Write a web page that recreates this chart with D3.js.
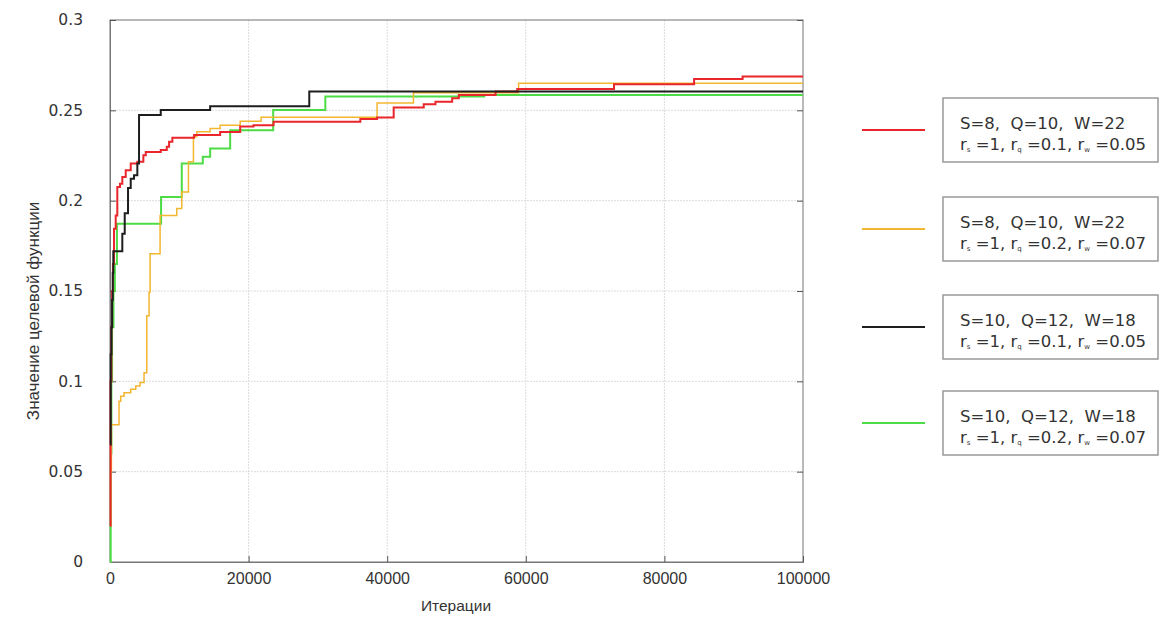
<!DOCTYPE html>
<html>
<head>
<meta charset="utf-8">
<script src="https://cdn.jsdelivr.net/npm/d3@7"></script>
<style>
  body { margin: 0; background: #fff; }
  svg text { font-family: "DejaVu Sans", Verdana, sans-serif; }
</style>
</head>
<body>
<svg id="chart" width="1162" height="619"></svg>
<script>
// data: [iteration, objective value], step curves
var seriesRed = [[0,0.02],[80,0.1],[200,0.13],[300,0.15],[420,0.165],[578,0.1844],[824,0.1918],[1055,0.2076],
  [1445,0.2094],[1777,0.2131],[2269,0.2168],[2991,0.2206],[3945,0.2215],[4812,0.2252],[5159,0.227],[7326,0.228],
  [8193,0.2298],[8526,0.2326],[9002,0.2348],[12138,0.2363],[15895,0.238],[18785,0.241],[20707,0.2418],
  [23597,0.2437],[36125,0.2452],[38538,0.246],[40937,0.2515],[45272,0.2533],[46962,0.2548],[49376,0.2567],
  [50329,0.2585],[55633,0.2604],[58768,0.2618],[72727,0.2644],[84287,0.2674],[91281,0.2687],[100000,0.2687]];

var seriesOrange = [[0,0.02],[100,0.05],[200,0.076],[1300,0.089],[1546,0.0918],[2023,0.0937],[2991,0.0956],
  [3714,0.0974],[4335,0.0993],[4913,0.1048],[5303,0.1363],[5636,0.1493],[5780,0.1706],[7225,0.1918],
  [9633,0.1956],[10355,0.2048],[11320,0.2215],[12040,0.2354],[12525,0.2381],[14450,0.24],[15895,0.2418],
  [18785,0.244],[21800,0.2462],[38538,0.254],[43783,0.2597],[58956,0.265],[100000,0.265]];

var seriesBlack = [[0,0.065],[100,0.115],[200,0.13],[300,0.145],[400,0.16],[477,0.172],[1777,0.1817],
  [2124,0.193],[2601,0.207],[2991,0.2122],[3468,0.214],[3945,0.2206],[4190,0.2474],[7326,0.2502],
  [14450,0.2522],[28755,0.2604],[100000,0.2604]];

var seriesGreen = [[0,0.0],[100,0.06],[200,0.1],[300,0.13],[500,0.15],[700,0.165],[1000,0.1872],
  [7370,0.202],[10355,0.2206],[13390,0.2243],[14450,0.2289],[17340,0.239],[23550,0.2502],[31070,0.2576],
  [54000,0.2585],[100000,0.2585]];

var legendLine1 = ["S=8,  Q=10,  W=22", "S=8,  Q=10,  W=22", "S=10,  Q=12,  W=18", "S=10,  Q=12,  W=18"];
var legendRq = ["0.1", "0.2", "0.1", "0.2"];
var legendRw = ["0.05", "0.07", "0.05", "0.07"];
var seriesColors = ["#e8262b", "#f2b631", "#1e1e1e", "#4ddc45"];

var xTicks = [0, 20000, 40000, 60000, 80000, 100000];
var yTicks = [0, 0.05, 0.1, 0.15, 0.2, 0.25, 0.3];

var allSeries = [seriesRed, seriesOrange, seriesBlack, seriesGreen];

const svg = d3.select("#chart");
const mLeft = 110, mRight = 803, mTop = 20, mBottom = 562;

const xScale = d3.scaleLinear().domain([0, 100000]).range([mLeft, mRight]);
const yScale = d3.scaleLinear().domain([0, 0.3]).range([mBottom, mTop]);

// grid
svg.append("g").selectAll("line").data(xTicks.slice(1, -1)).enter().append("line")
  .attr("x1", d => xScale(d)).attr("x2", d => xScale(d))
  .attr("y1", mTop).attr("y2", mBottom)
  .attr("stroke", "#dcdcdc").attr("stroke-width", 1).attr("stroke-dasharray", "2,1");
svg.append("g").selectAll("line").data(yTicks.slice(1, -1)).enter().append("line")
  .attr("x1", mLeft).attr("x2", mRight)
  .attr("y1", d => yScale(d)).attr("y2", d => yScale(d))
  .attr("stroke", "#dcdcdc").attr("stroke-width", 1).attr("stroke-dasharray", "2,1");

// frame
svg.append("rect").attr("x", mLeft).attr("y", mTop)
  .attr("width", mRight - mLeft).attr("height", mBottom - mTop)
  .attr("fill", "none").attr("stroke", "#8a8a8a").attr("stroke-width", 1.2);

// axes
const yAxis = svg.append("g").attr("transform", `translate(${mLeft},0)`)
  .call(d3.axisLeft(yScale).tickValues(yTicks).tickSize(-6).tickPadding(27).tickFormat(d3.format("")));
yAxis.select(".domain").attr("stroke", "#777");
yAxis.selectAll(".tick line").attr("stroke", "#555");
yAxis.selectAll("text").attr("font-size", 15.5).attr("fill", "#333")
  .style("font-family", "DejaVu Sans, sans-serif");

svg.append("g").attr("transform", `translate(${mRight},0)`)
  .call(d3.axisRight(yScale).tickValues(yTicks).tickSize(-6).tickFormat(""))
  .call(g => g.select(".domain").remove())
  .selectAll(".tick line").attr("stroke", "#555");

const xAxis = svg.append("g").attr("transform", `translate(0,${mBottom})`)
  .call(d3.axisBottom(xScale).tickValues(xTicks).tickSize(-6).tickPadding(11).tickFormat(d3.format("d")));
xAxis.select(".domain").attr("stroke", "#777");
xAxis.selectAll(".tick line").attr("stroke", "#555");
xAxis.selectAll("text").attr("font-size", 16).attr("fill", "#333")
  .style("font-family", "Liberation Sans, Arial, sans-serif");

// axis titles
svg.append("text").attr("x", 456).attr("y", 611).attr("text-anchor", "middle")
  .attr("font-size", 15.5).attr("fill", "#333")
  .style("font-family", "Liberation Sans, Arial, sans-serif").text("Итерации");
svg.append("text").attr("transform", "translate(39,311) rotate(-90)").attr("text-anchor", "middle")
  .attr("font-size", 17).attr("fill", "#333")
  .style("font-family", "Liberation Sans, Arial, sans-serif").text("Значение целевой функции");

// lines
const line = d3.line().x(d => xScale(d[0])).y(d => yScale(d[1])).curve(d3.curveStepAfter);
const plot = svg.append("g");
// draw order: green under, then orange, red, black
[3, 1, 0, 2].forEach(function(i) {
  plot.append("path").datum(allSeries[i])
    .attr("d", line).attr("fill", "none")
    .attr("stroke", seriesColors[i])
    .attr("stroke-width", i == 1 ? 1.5 : 2);
});

// legend
const boxTops = [98, 197, 295, 391];
const legend = svg.append("g");
legendLine1.forEach(function(label, i) {
  const by = boxTops[i];
  const g = legend.append("g");
  g.append("line").attr("x1", 862).attr("x2", 925)
    .attr("y1", by + 32).attr("y2", by + 32)
    .attr("stroke", seriesColors[i]).attr("stroke-width", 2);
  g.append("rect").attr("x", 943).attr("y", by).attr("width", 215).attr("height", 64)
    .attr("fill", "#fff").attr("stroke", "#999").attr("stroke-width", 1.5);
  g.append("text").attr("x", 960).attr("y", by + 31)
    .attr("font-size", 16.5).attr("fill", "#333").style("white-space", "pre")
    .attr("xml:space", "preserve").text(label);
  const t = g.append("text").attr("x", 960).attr("y", by + 52)
    .attr("font-size", 16.5).attr("fill", "#333").attr("xml:space", "preserve");
  t.append("tspan").text("r");
  t.append("tspan").attr("font-size", 7).attr("dy", 2).text("s");
  t.append("tspan").attr("dy", -2).text(" =1, r");
  t.append("tspan").attr("font-size", 7).attr("dy", 2).text("q");
  t.append("tspan").attr("dy", -2).text(" =" + legendRq[i] + ", r");
  t.append("tspan").attr("font-size", 7).attr("dy", 2).text("w");
  t.append("tspan").attr("dy", -2).text(" =" + legendRw[i]);
});
</script>
</body>
</html>
